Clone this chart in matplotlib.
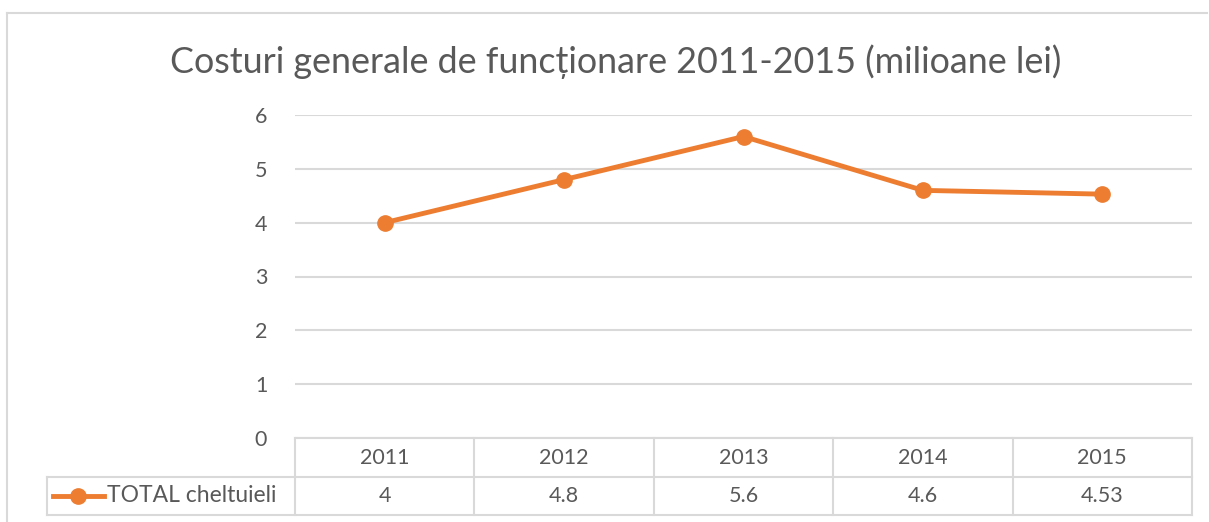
import matplotlib.pyplot as plt
from matplotlib.lines import Line2D

years = ['2011', '2012', '2013', '2014', '2015']
total = [4, 4.8, 5.6, 4.6, 4.53]
total_labels = ['4', '4.8', '5.6', '4.6', '4.53']
series_name = 'TOTAL cheltuieli'
title = 'Costuri generale de funcționare 2011-2015 (milioane lei)'

W, H = 1209, 522
orange = '#ED7D31'
grid = '#D9D9D9'
txt = '#595959'
plt.rcParams['font.family'] = ['Lato', 'DejaVu Sans']

fig = plt.figure(figsize=(W / 100, H / 100), dpi=100)

def fx(px):
    return px / W

def fy(py):
    return 1 - py / H

# plot area in pixel coords
left, right, top, bottom = 295, 1192, 115, 438
ax = fig.add_axes([fx(left), fy(bottom), fx(right) - fx(left), fy(top) - fy(bottom)])
x = [i + 0.5 for i in range(len(years))]
ax.plot(x, total, color=orange, lw=3.5, marker='o', ms=11, zorder=3)
ax.set_xlim(0, len(years))
ax.set_ylim(0, 6)
ax.set_yticks(range(0, 7))
ax.set_xticks([])
ax.yaxis.grid(True, color=grid, lw=1.5)
ax.set_axisbelow(True)
for s in ax.spines.values():
    s.set_visible(False)
ax.tick_params(axis='y', length=0, pad=20, labelsize=15.5, labelcolor=txt)

fig.text(fx(616), fy(62), title, ha='center', va='center', fontsize=25.8, color=txt)

# outer chart frame
fig.add_artist(Line2D([fx(7), fx(7)], [fy(13), 0], color=grid, lw=1.5))
fig.add_artist(Line2D([fx(7), fx(1207)], [fy(13), fy(13)], color=grid, lw=1.5))

# data table below the plot
col_w = (right - left) / len(years)
r0, r1, r2 = 438, 477, 515
tl = 47
def hline(y, x0, x1):
    fig.add_artist(Line2D([fx(x0), fx(x1)], [fy(y), fy(y)], color=grid, lw=1.5))
def vline(xp, y0, y1):
    fig.add_artist(Line2D([fx(xp), fx(xp)], [fy(y0), fy(y1)], color=grid, lw=1.5))

hline(r0, left, right)
hline(r1, tl, right)
hline(r2, tl, right)
vline(tl, r1, r2)
for i in range(len(years) + 1):
    vline(left + i * col_w, r0, r2)
for i, (yr, lab) in enumerate(zip(years, total_labels)):
    cx = fx(left + (i + 0.5) * col_w)
    fig.text(cx, fy((r0 + r1) / 2), yr, ha='center', va='center', fontsize=15.5, color=txt)
    fig.text(cx, fy((r1 + r2) / 2), lab, ha='center', va='center', fontsize=15.5, color=txt)

# legend key in the row header
ym = fy((r1 + r2) / 2)
fig.add_artist(Line2D([fx(53), fx(104)], [ym, ym], color=orange, lw=3.5))
fig.add_artist(Line2D([fx(78)], [ym], color=orange, marker='o', ms=11))
fig.text(fx(107), ym, series_name, ha='left', va='center', fontsize=16.5, color=txt)

fig.savefig('out.png', dpi=100)
